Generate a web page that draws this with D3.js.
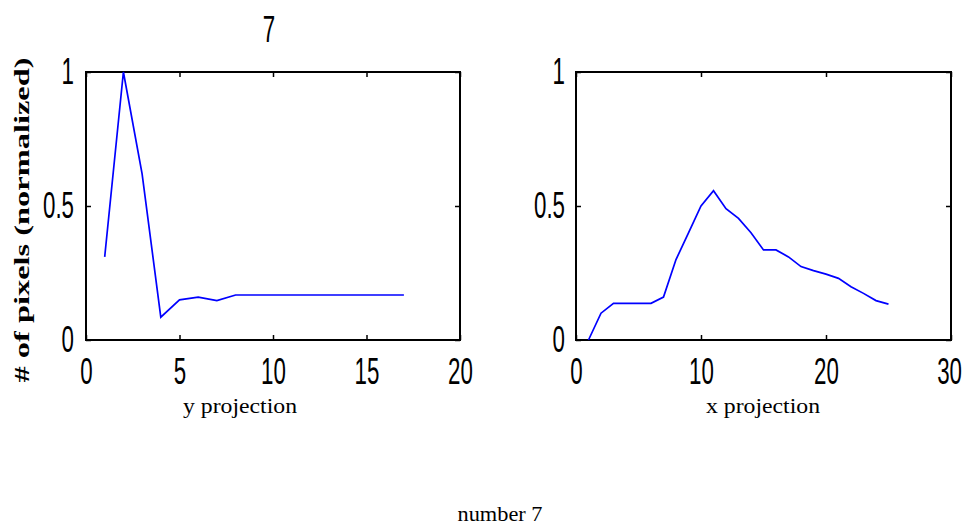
<!DOCTYPE html>
<html><head><meta charset="utf-8">
<script src="https://cdn.jsdelivr.net/npm/d3@7"></script>
<style>body{margin:0;background:#fff}</style>
</head><body>
<svg id="c" width="964" height="527"></svg>
<script>
// ---- data ----
const yProjX = [1,2,3,4,5,6,7,8,9,10,11,12,13,14,15,16,17];
const yProjV = [0.31,1.0,0.62,0.085,0.15,0.16,0.147,0.168,0.168,0.168,0.168,0.168,0.168,0.168,0.168,0.168,0.168];
const xProjX = [1,2,3,4,5,6,7,8,9,10,11,12,13,14,15,16,17,18,19,20,21,22,23,24,25];
const xProjV = [0,0.10,0.137,0.137,0.137,0.137,0.16,0.30,0.40,0.50,0.557,0.49,0.454,0.40,0.336,0.336,0.31,0.274,0.259,0.246,0.23,0.199,0.174,0.147,0.134];
const yTicks = [0,0.5,1];
const leftXTicks = [0,5,10,15,20];
const rightXTicks = [0,10,20,30];
const titleText = "7";
const yLabel = "# of pixels (normalized)";
const leftXLabel = "y projection";
const rightXLabel = "x projection";
const figLabel = "number 7";

const W = 964;
const svg = d3.select("#c");
const tickFont = "'Liberation Sans','Arial',sans-serif";
const serif = "'Liberation Serif','Times New Roman',serif";
const squeeze = 0.62;

// horizontally condense a text around its anchor x, keeping it inside the canvas
function compress(sel) {
  sel.each(function(){
    const t = d3.select(this);
    const ax = +t.attr("x") || 0;
    t.attr("x", 0).attr("transform", `translate(${ax},0) scale(${squeeze},1)`);
    const r = this.getBoundingClientRect();
    const over = r.right - (W - 2);
    if (over > 0) t.attr("transform", `translate(${ax - over},0) scale(${squeeze},1)`);
  });
}

function panel(x0, x1, y0, y1, xDomain, xTicks, xs, vs, labelGap) {
  const x = d3.scaleLinear().domain(xDomain).range([x0, x1]);
  const y = d3.scaleLinear().domain([0,1]).range([y1, y0]);
  const g = svg.append("g");
  const fmt = d3.format("");
  const styleAxis = (sel, labels) => {
    sel.select(".domain").remove();
    sel.selectAll(".tick line").attr("stroke","#000").attr("stroke-width",1.5);
    const t = sel.selectAll(".tick text").attr("fill","#000")
      .style("font-family", tickFont).style("font-size","36px")
      .style("display", labels ? null : "none");
    if (labels) compress(t);
  };
  g.append("g").attr("transform",`translate(0,${y1})`)
    .call(d3.axisBottom(x).tickValues(xTicks).tickFormat(fmt).tickSize(-5).tickPadding(18))
    .call(s=>styleAxis(s,true));
  g.append("g").attr("transform",`translate(0,${y0})`)
    .call(d3.axisTop(x).tickValues(xTicks).tickSize(-5))
    .call(s=>styleAxis(s,false));
  g.append("g").attr("transform",`translate(${x0},0)`)
    .call(d3.axisLeft(y).tickValues(yTicks).tickFormat(fmt).tickSize(-5).tickPadding(labelGap))
    .call(s=>styleAxis(s,true));
  g.append("g").attr("transform",`translate(${x1},0)`)
    .call(d3.axisRight(y).tickValues(yTicks).tickSize(-5))
    .call(s=>styleAxis(s,false));
  g.append("rect").attr("x",x0).attr("y",y0).attr("width",x1-x0).attr("height",y1-y0)
    .attr("fill","none").attr("stroke","#000").attr("stroke-width",2);
  const line = d3.line().x((d,i)=>x(xs[i])).y(d=>y(d));
  g.append("path").datum(vs).attr("d",line)
    .attr("fill","none").attr("stroke","#0000ff").attr("stroke-width",1.7);
  return {x,y};
}

panel(86, 460, 72, 340, [0,20], leftXTicks, yProjX, yProjV, 12);
panel(576, 951, 72, 340, [0,30], rightXTicks, xProjX, xProjV, 11);

svg.append("text").attr("x",269).attr("y",42).attr("text-anchor","middle")
  .style("font-family",tickFont).style("font-size","36px").text(titleText)
  .call(compress);

svg.append("text").attr("transform","translate(29,220) rotate(-90)").attr("text-anchor","middle")
  .style("font-family",serif).style("font-weight","bold").style("font-size","22px")
  .attr("textLength",325).attr("lengthAdjust","spacingAndGlyphs").text(yLabel);

svg.append("text").attr("x",240).attr("y",413).attr("text-anchor","middle")
  .style("font-family",serif).style("font-size","21px")
  .attr("textLength",114).attr("lengthAdjust","spacingAndGlyphs").text(leftXLabel);
svg.append("text").attr("x",763).attr("y",413).attr("text-anchor","middle")
  .style("font-family",serif).style("font-size","21px")
  .attr("textLength",114).attr("lengthAdjust","spacingAndGlyphs").text(rightXLabel);
svg.append("text").attr("x",500).attr("y",521).attr("text-anchor","middle")
  .style("font-family",serif).style("font-size","21px")
  .attr("textLength",85).attr("lengthAdjust","spacingAndGlyphs").text(figLabel);
</script>
</body></html>
